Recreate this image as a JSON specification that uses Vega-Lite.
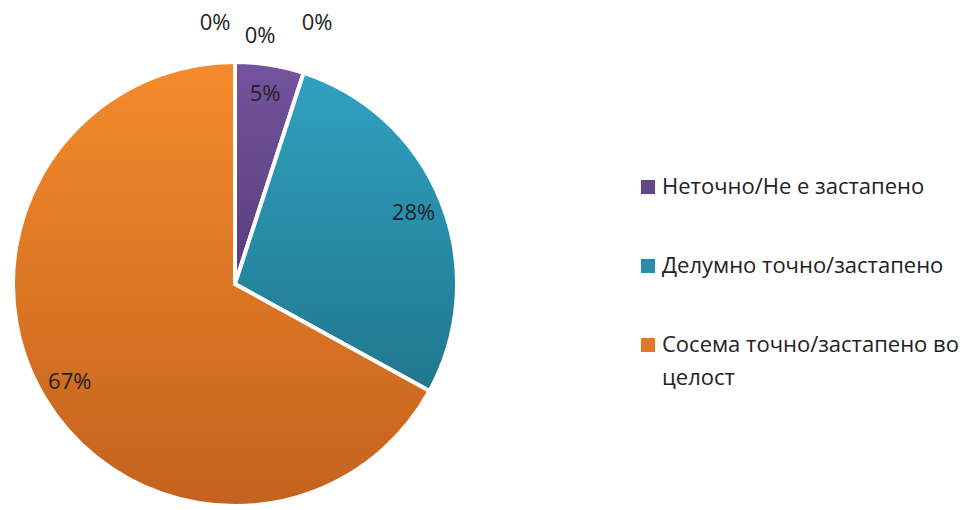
{
  "$schema": "https://vega.github.io/schema/vega-lite/v6.json",
  "width": 470,
  "height": 510,
  "autosize": "none",
  "padding": {"left": 0, "top": 29, "right": 507, "bottom": 0},
  "background": "white",
  "config": {
    "view": {"stroke": null},
    "font": "Open Sans",
    "style": {"guide-label": {"lineHeight": 33}}
  },
  "layer": [
    {
      "data": {"values": [
        {"category": "Неточно/Не е застапено", "value": 5, "order": 1, "label": "5%"},
        {"category": "Делумно точно/застапено", "value": 28, "order": 2, "label": "28%"},
        {"category": "Сосема точно/застапено во целост", "value": 67, "order": 3, "label": "67%"}
      ]},
      "layer": [
        {
          "mark": {"type": "arc", "outerRadius": 222, "stroke": "white", "strokeWidth": 4},
          "encoding": {
            "theta": {"field": "value", "type": "quantitative", "stack": true},
            "order": {"field": "order", "type": "quantitative"},
            "color": {
              "condition": [
                {"test": "datum.order == 1", "value": {"gradient": "linear", "x1": 0, "y1": 0, "x2": 0, "y2": 1, "stops": [{"offset": 0, "color": "#74549e"}, {"offset": 1, "color": "#583c7a"}]}},
                {"test": "datum.order == 2", "value": {"gradient": "linear", "x1": 0, "y1": 0, "x2": 0, "y2": 1, "stops": [{"offset": 0, "color": "#30a1c0"}, {"offset": 1, "color": "#20778e"}]}},
                {"test": "datum.order == 3", "value": {"gradient": "linear", "x1": 0, "y1": 0, "x2": 0, "y2": 1, "stops": [{"offset": 0, "color": "#f48b2b"}, {"offset": 1, "color": "#c4621e"}]}}
              ],
              "field": "category", "type": "nominal",
              "scale": {
                "domain": ["Неточно/Не е застапено", "Делумно точно/застапено", "Сосема точно/застапено во целост"],
                "range": ["#654789", "#2a8ca8", "#e07a24"]
              },
              "legend": {
                "title": null,
                "orient": "none",
                "legendX": 637,
                "legendY": 147,
                "symbolType": "square",
                "symbolSize": 200,
                "symbolStrokeWidth": 0,
                "labelFontSize": 22,
                "labelColor": "#222222",
                "labelFont": "Open Sans",
                "labelLimit": 400,
                "labelOffset": 3,
                "rowPadding": 57,
                "labelExpr": "datum.label == 'Сосема точно/застапено во целост' ? ['Сосема точно/застапено во', 'целост'] : datum.label"
              }
            }
          }
        },
        {
          "mark": {"type": "text", "radius": 192, "fontSize": 22, "color": "#222222", "font": "Open Sans"},
          "encoding": {
            "theta": {"field": "value", "type": "quantitative", "stack": true},
            "order": {"field": "order", "type": "quantitative"},
            "text": {"field": "label", "type": "nominal"}
          }
        }
      ]
    },
    {
      "data": {"values": [{"label": "0%"}]},
      "mark": {"type": "text", "fontSize": 22, "color": "#222222", "font": "Open Sans", "dx": -20, "dy": -261},
      "encoding": {"text": {"field": "label", "type": "nominal"}}
    },
    {
      "data": {"values": [{"label": "0%"}]},
      "mark": {"type": "text", "fontSize": 22, "color": "#222222", "font": "Open Sans", "dx": 25, "dy": -248},
      "encoding": {"text": {"field": "label", "type": "nominal"}}
    },
    {
      "data": {"values": [{"label": "0%"}]},
      "mark": {"type": "text", "fontSize": 22, "color": "#222222", "font": "Open Sans", "dx": 82, "dy": -261},
      "encoding": {"text": {"field": "label", "type": "nominal"}}
    }
  ]
}
